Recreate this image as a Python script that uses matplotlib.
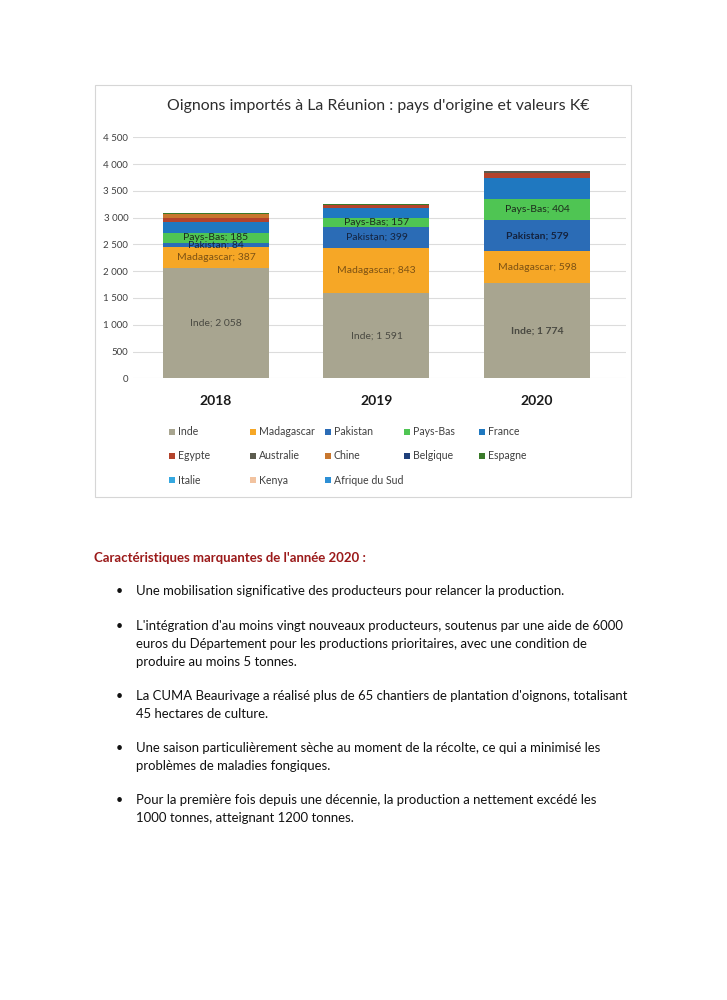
import matplotlib
matplotlib.use('Agg')
import matplotlib.pyplot as plt
from matplotlib.patches import Rectangle

# ---------------- data ----------------
years = ['2018', '2019', '2020']
countries = ['Inde', 'Madagascar', 'Pakistan', 'Pays-Bas', 'France', 'Egypte',
             'Australie', 'Chine', 'Belgique', 'Espagne', 'Italie', 'Kenya',
             'Afrique du Sud']
v2018 = [2058, 387, 84, 185, 210, 60, 0, 90, 0, 20, 0, 0, 0]
v2019 = [1591, 843, 399, 157, 190, 55, 10, 0, 0, 15, 0, 0, 0]
v2020 = [1774, 598, 579, 404, 390, 95, 40, 0, 0, 0, 0, 0, 0]
colors = ['#a8a590', '#f6a726', '#2b6cb6', '#4fc553', '#1f78c0', '#b3432c',
          '#5b5b4e', '#c8772e', '#1e3f7a', '#3a7a2a', '#35a8e0', '#f2c3a0',
          '#2d8fd5']
labelled = ['Inde', 'Madagascar', 'Pakistan', 'Pays-Bas']
label_colors = {'Inde': '#4a4a42', 'Madagascar': '#7d5214',
                'Pakistan': '#14233f', 'Pays-Bas': '#1c2b1c'}
yticks = [0, 500, 1000, 1500, 2000, 2500, 3000, 3500, 4000, 4500]
title = "Oignons importés à La Réunion : pays d'origine et valeurs K€"

heading = "Caractéristiques marquantes de l'année 2020 :"
bullets = [
    ["Une mobilisation significative des producteurs pour relancer la production."],
    ["L'intégration d'au moins vingt nouveaux producteurs, soutenus par une aide de 6000",
     "euros du Département pour les productions prioritaires, avec une condition de",
     "produire au moins 5 tonnes."],
    ["La CUMA Beaurivage a réalisé plus de 65 chantiers de plantation d'oignons, totalisant",
     "45 hectares de culture."],
    ["Une saison particulièrement sèche au moment de la récolte, ce qui a minimisé les",
     "problèmes de maladies fongiques."],
    ["Pour la première fois depuis une décennie, la production a nettement excédé les",
     "1000 tonnes, atteignant 1200 tonnes."],
]

W, H = 727, 1000
FONT = ['Lato', 'DejaVu Sans']
plt.rcParams['font.family'] = FONT

def fmt(v):
    return f"{v:,}".replace(",", " ")

def fx(x):
    return x / W

def fy(y):
    return 1 - y / H

fig = plt.figure(figsize=(W / 100, H / 100), dpi=100)
fig.patch.set_facecolor('white')

# chart frame
fig.add_artist(Rectangle((fx(95), fy(497)), (631 - 95) / W, (497 - 85) / H,
                         transform=fig.transFigure, fill=False,
                         ec='#d6d6d6', lw=0.8))

ax_left, ax_right, ax_bottom, ax_top = 133, 626, 378.3, 137.3
ax = fig.add_axes([fx(ax_left), fy(ax_bottom), (ax_right - ax_left) / W,
                   (ax_bottom - ax_top) / H])
ax.set_xlim(-0.517, 2.555)
ax.set_ylim(0, 4500)
for s in ax.spines.values():
    s.set_visible(False)
ax.set_yticks(yticks, [fmt(t) for t in yticks])
ax.yaxis.grid(True, color='#dcdcdc', lw=0.8)
ax.set_axisbelow(True)
ax.tick_params(axis='y', length=0, pad=3.5, labelsize=7, labelcolor='#404040')
ax.set_xticks(range(len(years)), years)
ax.tick_params(axis='x', length=0, pad=12, labelsize=10, labelcolor='#1a1a1a')
for t in ax.get_xticklabels():
    t.set_fontweight('bold')

series = list(zip(v2018, v2019, v2020))
bottom = [0, 0, 0]
xs = list(range(len(years)))
for name, vals, col in zip(countries, series, colors):
    ax.bar(xs, vals, 0.66, bottom=bottom, color=col, lw=0)
    if name in labelled:
        for i, v in enumerate(vals):
            weight = 'bold' if (i == 2 and name in ('Pakistan', 'Inde')) else 'normal'
            ax.text(i, bottom[i] + v / 2, f"{name}; {fmt(v)}", ha='center',
                    va='center', fontsize=7.5, color=label_colors[name],
                    fontweight=weight)
    bottom = [b + v for b, v in zip(bottom, vals)]

fig.text(fx(378), fy(106), title, ha='center', va='center', fontsize=11.4,
         color='#2e2e2e')

# legend
col_x = [171.7, 253, 328, 406.7, 481.7]
row_y = [431.7, 455.7, 480]
for k, (name, col) in enumerate(zip(countries, colors)):
    r, c = divmod(k, 5)
    x, y = col_x[c], row_y[r]
    fig.add_artist(Rectangle((fx(x - 3), fy(y + 3)), 6 / W, 6 / H,
                             transform=fig.transFigure, color=col, lw=0))
    fig.text(fx(x + 6), fy(y), name, ha='left', va='center', fontsize=7.6,
             color='#404040')

# text below
fig.text(fx(93.5), fy(558), heading, ha='left', va='center', fontsize=9.5,
         fontweight='bold', color='#9b1a1a')
first_y = [591, 625.5, 695.5, 748.5, 800]
for y0, lines in zip(first_y, bullets):
    fig.text(fx(116), fy(y0), '•', ha='left', va='center', fontsize=9,
             color='#111111')
    for j, line in enumerate(lines):
        fig.text(fx(136.5), fy(y0 + 18 * j), line, ha='left', va='center',
                 fontsize=9.45, color='#111111')

fig.savefig('out.png', dpi=100, facecolor='white')
